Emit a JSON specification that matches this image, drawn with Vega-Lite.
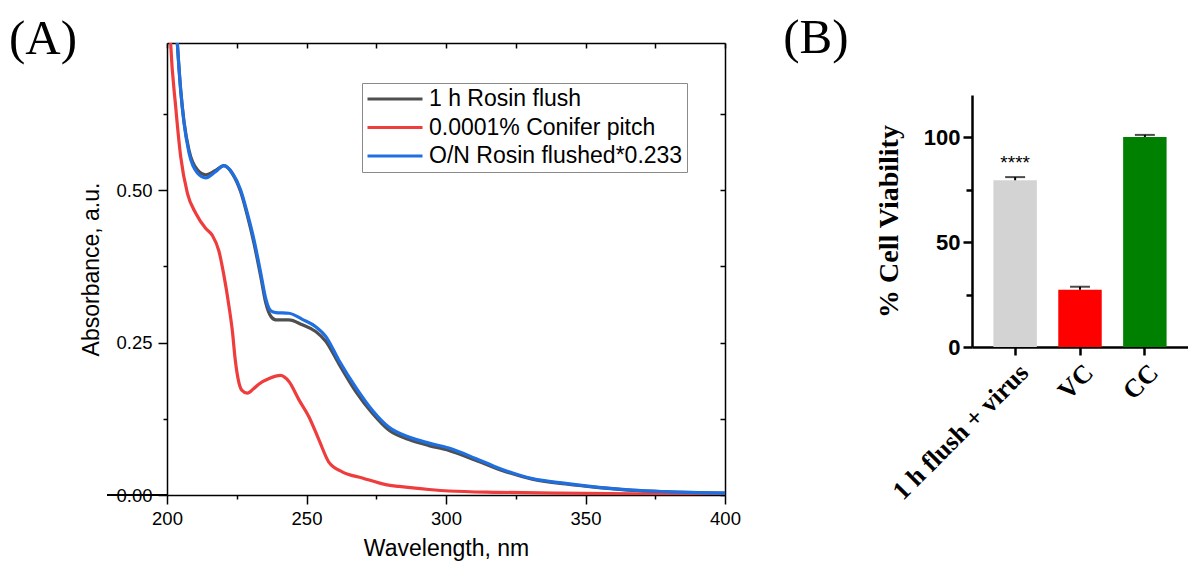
{
  "$schema": "https://vega.github.io/schema/vega-lite/v6.json",
  "background": "white",
  "padding": {"left": 8, "top": 14, "right": 0, "bottom": 0},
  "spacing": 42,
  "resolve": {"scale": {"color": "independent"}},
  "config": {
    "view": {"stroke": null},
    "font": "Liberation Sans",
    "axis": {"grid": false, "domainColor": "black", "tickColor": "black", "labelColor": "black", "titleColor": "black"}
  },
  "hconcat": [
    {
      "width": 558,
      "height": 452,
      "title": {"text": "(A)", "orient": "left", "angle": 0, "anchor": "end", "align": "left", "baseline": "middle", "font": "Liberation Serif", "fontSize": 49, "fontWeight": "normal", "color": "black", "offset": 4, "dy": -3},
      "data": {
        "values": [
          {"series": "1 h Rosin flush", "wl": 202, "abs": 0.88},
          {"series": "1 h Rosin flush", "wl": 203.7, "abs": 0.741},
          {"series": "1 h Rosin flush", "wl": 204.9, "abs": 0.664},
          {"series": "1 h Rosin flush", "wl": 206.1, "abs": 0.612},
          {"series": "1 h Rosin flush", "wl": 207.9, "abs": 0.565},
          {"series": "1 h Rosin flush", "wl": 210.9, "abs": 0.533},
          {"series": "1 h Rosin flush", "wl": 213.9, "abs": 0.525},
          {"series": "1 h Rosin flush", "wl": 217.4, "abs": 0.532},
          {"series": "1 h Rosin flush", "wl": 220.4, "abs": 0.54},
          {"series": "1 h Rosin flush", "wl": 223.4, "abs": 0.527},
          {"series": "1 h Rosin flush", "wl": 226.4, "abs": 0.497},
          {"series": "1 h Rosin flush", "wl": 228.8, "abs": 0.458},
          {"series": "1 h Rosin flush", "wl": 231.2, "abs": 0.412},
          {"series": "1 h Rosin flush", "wl": 233.6, "abs": 0.358},
          {"series": "1 h Rosin flush", "wl": 235.4, "abs": 0.315},
          {"series": "1 h Rosin flush", "wl": 237.2, "abs": 0.293},
          {"series": "1 h Rosin flush", "wl": 239, "abs": 0.287},
          {"series": "1 h Rosin flush", "wl": 243.7, "abs": 0.287},
          {"series": "1 h Rosin flush", "wl": 248.5, "abs": 0.279},
          {"series": "1 h Rosin flush", "wl": 253.3, "abs": 0.268},
          {"series": "1 h Rosin flush", "wl": 256.9, "abs": 0.252},
          {"series": "1 h Rosin flush", "wl": 261.6, "abs": 0.215},
          {"series": "1 h Rosin flush", "wl": 267.6, "abs": 0.17},
          {"series": "1 h Rosin flush", "wl": 273.6, "abs": 0.134},
          {"series": "1 h Rosin flush", "wl": 279.6, "abs": 0.106},
          {"series": "1 h Rosin flush", "wl": 286.7, "abs": 0.091},
          {"series": "1 h Rosin flush", "wl": 293.9, "abs": 0.081},
          {"series": "1 h Rosin flush", "wl": 301, "abs": 0.073},
          {"series": "1 h Rosin flush", "wl": 310.6, "abs": 0.057},
          {"series": "1 h Rosin flush", "wl": 319, "abs": 0.042},
          {"series": "1 h Rosin flush", "wl": 330.9, "abs": 0.026},
          {"series": "1 h Rosin flush", "wl": 342.9, "abs": 0.018},
          {"series": "1 h Rosin flush", "wl": 354.8, "abs": 0.012},
          {"series": "1 h Rosin flush", "wl": 366.8, "abs": 0.0075},
          {"series": "1 h Rosin flush", "wl": 378.7, "abs": 0.005},
          {"series": "1 h Rosin flush", "wl": 400, "abs": 0.003},
          {"series": "0.0001% Conifer pitch", "wl": 200.3, "abs": 0.86},
          {"series": "0.0001% Conifer pitch", "wl": 201.3, "abs": 0.741},
          {"series": "0.0001% Conifer pitch", "wl": 203.1, "abs": 0.637},
          {"series": "0.0001% Conifer pitch", "wl": 204.9, "abs": 0.555},
          {"series": "0.0001% Conifer pitch", "wl": 207.3, "abs": 0.495},
          {"series": "0.0001% Conifer pitch", "wl": 210.3, "abs": 0.462},
          {"series": "0.0001% Conifer pitch", "wl": 213.9, "abs": 0.437},
          {"series": "0.0001% Conifer pitch", "wl": 216.2, "abs": 0.426},
          {"series": "0.0001% Conifer pitch", "wl": 218.6, "abs": 0.4},
          {"series": "0.0001% Conifer pitch", "wl": 220.4, "abs": 0.36},
          {"series": "0.0001% Conifer pitch", "wl": 222.2, "abs": 0.31},
          {"series": "0.0001% Conifer pitch", "wl": 223.4, "abs": 0.27},
          {"series": "0.0001% Conifer pitch", "wl": 224.5, "abs": 0.22},
          {"series": "0.0001% Conifer pitch", "wl": 225.5, "abs": 0.19},
          {"series": "0.0001% Conifer pitch", "wl": 226.8, "abs": 0.172},
          {"series": "0.0001% Conifer pitch", "wl": 228.8, "abs": 0.167},
          {"series": "0.0001% Conifer pitch", "wl": 231, "abs": 0.174},
          {"series": "0.0001% Conifer pitch", "wl": 233, "abs": 0.182},
          {"series": "0.0001% Conifer pitch", "wl": 236.6, "abs": 0.191},
          {"series": "0.0001% Conifer pitch", "wl": 240.7, "abs": 0.196},
          {"series": "0.0001% Conifer pitch", "wl": 243.7, "abs": 0.186},
          {"series": "0.0001% Conifer pitch", "wl": 247.3, "abs": 0.156},
          {"series": "0.0001% Conifer pitch", "wl": 250.9, "abs": 0.128},
          {"series": "0.0001% Conifer pitch", "wl": 254.5, "abs": 0.09},
          {"series": "0.0001% Conifer pitch", "wl": 258, "abs": 0.054},
          {"series": "0.0001% Conifer pitch", "wl": 262.8, "abs": 0.038},
          {"series": "0.0001% Conifer pitch", "wl": 270, "abs": 0.028},
          {"series": "0.0001% Conifer pitch", "wl": 278.4, "abs": 0.017},
          {"series": "0.0001% Conifer pitch", "wl": 283.2, "abs": 0.014},
          {"series": "0.0001% Conifer pitch", "wl": 293.9, "abs": 0.009},
          {"series": "0.0001% Conifer pitch", "wl": 301, "abs": 0.0066},
          {"series": "0.0001% Conifer pitch", "wl": 319, "abs": 0.0044},
          {"series": "0.0001% Conifer pitch", "wl": 340, "abs": 0.003},
          {"series": "0.0001% Conifer pitch", "wl": 370, "abs": 0.002},
          {"series": "0.0001% Conifer pitch", "wl": 400, "abs": 0.0015},
          {"series": "O/N Rosin flushed*0.233", "wl": 202, "abs": 0.88},
          {"series": "O/N Rosin flushed*0.233", "wl": 203.7, "abs": 0.741},
          {"series": "O/N Rosin flushed*0.233", "wl": 204.9, "abs": 0.664},
          {"series": "O/N Rosin flushed*0.233", "wl": 206.1, "abs": 0.61},
          {"series": "O/N Rosin flushed*0.233", "wl": 207.9, "abs": 0.561},
          {"series": "O/N Rosin flushed*0.233", "wl": 210.9, "abs": 0.528},
          {"series": "O/N Rosin flushed*0.233", "wl": 213.9, "abs": 0.52},
          {"series": "O/N Rosin flushed*0.233", "wl": 217.4, "abs": 0.53},
          {"series": "O/N Rosin flushed*0.233", "wl": 220.4, "abs": 0.54},
          {"series": "O/N Rosin flushed*0.233", "wl": 223.4, "abs": 0.528},
          {"series": "O/N Rosin flushed*0.233", "wl": 226.4, "abs": 0.5},
          {"series": "O/N Rosin flushed*0.233", "wl": 228.8, "abs": 0.462},
          {"series": "O/N Rosin flushed*0.233", "wl": 231.2, "abs": 0.418},
          {"series": "O/N Rosin flushed*0.233", "wl": 233.6, "abs": 0.364},
          {"series": "O/N Rosin flushed*0.233", "wl": 235.4, "abs": 0.322},
          {"series": "O/N Rosin flushed*0.233", "wl": 237.2, "abs": 0.302},
          {"series": "O/N Rosin flushed*0.233", "wl": 239, "abs": 0.299},
          {"series": "O/N Rosin flushed*0.233", "wl": 243.7, "abs": 0.298},
          {"series": "O/N Rosin flushed*0.233", "wl": 248.5, "abs": 0.288},
          {"series": "O/N Rosin flushed*0.233", "wl": 253.3, "abs": 0.276},
          {"series": "O/N Rosin flushed*0.233", "wl": 256.9, "abs": 0.26},
          {"series": "O/N Rosin flushed*0.233", "wl": 261.6, "abs": 0.221},
          {"series": "O/N Rosin flushed*0.233", "wl": 267.6, "abs": 0.177},
          {"series": "O/N Rosin flushed*0.233", "wl": 273.6, "abs": 0.139},
          {"series": "O/N Rosin flushed*0.233", "wl": 279.6, "abs": 0.111},
          {"series": "O/N Rosin flushed*0.233", "wl": 286.7, "abs": 0.095},
          {"series": "O/N Rosin flushed*0.233", "wl": 293.9, "abs": 0.085},
          {"series": "O/N Rosin flushed*0.233", "wl": 301, "abs": 0.077},
          {"series": "O/N Rosin flushed*0.233", "wl": 310.6, "abs": 0.06},
          {"series": "O/N Rosin flushed*0.233", "wl": 319, "abs": 0.044},
          {"series": "O/N Rosin flushed*0.233", "wl": 330.9, "abs": 0.027},
          {"series": "O/N Rosin flushed*0.233", "wl": 342.9, "abs": 0.019},
          {"series": "O/N Rosin flushed*0.233", "wl": 354.8, "abs": 0.0126},
          {"series": "O/N Rosin flushed*0.233", "wl": 366.8, "abs": 0.008},
          {"series": "O/N Rosin flushed*0.233", "wl": 378.7, "abs": 0.0055},
          {"series": "O/N Rosin flushed*0.233", "wl": 400, "abs": 0.003}
        ]
      },
      "encoding": {
        "x": {"field": "wl", "type": "quantitative", "scale": {"domain": [200, 400], "nice": false, "zero": false}, "axis": null},
        "y": {"field": "abs", "type": "quantitative", "scale": {"domain": [0, 0.741], "nice": false}, "axis": null},
        "color": {
          "field": "series", "type": "nominal",
          "scale": {"domain": ["1 h Rosin flush", "0.0001% Conifer pitch", "O/N Rosin flushed*0.233"], "range": ["#4f4f4f", "#ef3c3c", "#1f6fe0"]},
          "legend": {
            "orient": "none", "legendX": 195, "legendY": 40, "title": null,
            "symbolType": "stroke", "symbolSize": 3025, "symbolStrokeWidth": 3,
            "labelFont": "Liberation Sans", "labelFontSize": 23, "labelColor": "black", "labelLimit": 500, "labelOffset": 5,
            "strokeColor": "#8a8a8a", "fillColor": "white", "padding": 4, "clipHeight": 24, "rowPadding": 4.5
          }
        }
      },
      "layer": [
        {
          "transform": [{"filter": "datum.series === '1 h Rosin flush'"}],
          "mark": {"type": "line", "strokeWidth": 3.2, "clip": true, "interpolate": "monotone"},
          "encoding": {
            "x": {"field": "wl", "type": "quantitative", "axis": {
              "orient": "bottom", "values": [200, 225, 250, 275, 300, 325, 350, 375, 400],
              "labelExpr": "datum.value % 50 === 0 ? datum.label : ''",
              "tickSize": {"condition": {"test": "datum.value % 50 !== 0", "value": 4}, "value": 9},
              "domainWidth": 1.5, "tickWidth": 1.5, "labelFontSize": 18.5, "labelPadding": 5, "labelFlush": false,
              "title": "Wavelength, nm", "titleFontSize": 23, "titleFontWeight": "normal", "titlePadding": 10
            }},
            "y": {"field": "abs", "type": "quantitative", "axis": {
              "orient": "left", "values": [0, 0.125, 0.25, 0.375, 0.5, 0.625], "format": ".2f",
              "labelExpr": "datum.value % 0.25 === 0 ? datum.label : ''",
              "tickSize": {"condition": {"test": "datum.value % 0.25 !== 0", "value": 4}, "value": 9},
              "domainWidth": 1.5, "tickWidth": 1.5, "labelFontSize": 18.5, "labelPadding": 6, "labelFlush": false,
              "title": "Absorbance, a.u.", "titleFontSize": 23, "titleFontWeight": "normal", "titlePadding": 12
            }}
          }
        },
        {
          "transform": [{"filter": "datum.series === '0.0001% Conifer pitch'"}],
          "mark": {"type": "line", "strokeWidth": 3.2, "clip": true, "interpolate": "monotone"}
        },
        {
          "transform": [{"filter": "datum.series === 'O/N Rosin flushed*0.233'"}],
          "mark": {"type": "line", "strokeWidth": 3.2, "clip": true, "interpolate": "monotone"}
        },
        {
          "transform": [{"filter": "datum.abs < 0.7"}],
          "mark": {"type": "point", "opacity": 0},
          "encoding": {
            "color": {"value": "white"},
            "x": {"field": "wl", "type": "quantitative", "axis": {
              "orient": "top", "values": [200, 225, 250, 275, 300, 325, 350, 375, 400], "labels": false,
              "tickSize": -5, "domainWidth": 1.5, "tickWidth": 1.5, "title": null
            }},
            "y": {"field": "abs", "type": "quantitative", "axis": {
              "orient": "right", "values": [0, 0.125, 0.25, 0.375, 0.5, 0.625], "labels": false,
              "tickSize": -5, "domainWidth": 1.5, "tickWidth": 1.5, "title": null
            }}
          }
        },
        {
          "mark": {"type": "rule", "clip": false, "color": "black", "strokeWidth": 1.5},
          "encoding": {
            "color": {"value": "black"},
            "x": {"datum": 178.5, "type": "quantitative", "axis": null},
            "x2": {"datum": 200},
            "y": {"datum": 0, "type": "quantitative", "axis": null}
          }
        }
      ],
      "resolve": {"axis": {"x": "independent", "y": "independent"}}
    },
    {
      "width": 216,
      "height": 304,
      "title": {"text": "(B)", "anchor": "start", "frame": "bounds", "font": "Liberation Serif", "fontSize": 49, "fontWeight": "normal", "color": "black", "offset": -20, "dx": -92},
      "data": {
        "values": [
          {"group": "1 h flush + virus", "v": 79.4, "hi": 80.9, "sig": "****"},
          {"group": "VC", "v": 27.3, "hi": 28.7, "sig": ""},
          {"group": "CC", "v": 100, "hi": 101, "sig": ""}
        ]
      },
      "encoding": {
        "x": {"field": "group", "type": "nominal", "sort": null, "scale": {"paddingInner": 0.33, "paddingOuter": 0.33},
          "axis": {
            "title": null, "labelAngle": -45, "labelFont": "Liberation Serif", "labelFontWeight": "bold", "labelFontSize": 26,
            "domainWidth": 2.5, "tickWidth": 2.5, "tickSize": 8, "labelPadding": 4
          }}
      },
      "layer": [
        {
          "mark": {"type": "bar"},
          "encoding": {
            "y": {"field": "v", "type": "quantitative", "scale": {"domain": [0, 120], "nice": false, "range": [304, 52]},
              "axis": {
                "values": [0, 25, 50, 75, 100],
                "labelExpr": "datum.value % 50 === 0 ? datum.label : ''",
                "tickSize": {"condition": {"test": "datum.value % 50 !== 0", "value": 6}, "value": 9},
                "domainWidth": 2.5, "tickWidth": 2.5,
                "labelFont": "Liberation Sans", "labelFontWeight": "bold", "labelFontSize": 22, "labelPadding": 3,
                "title": "% Cell Viability", "titleFont": "Liberation Serif", "titleFontSize": 28, "titleFontWeight": "bold", "titlePadding": 20
              }},
            "color": {"field": "group", "type": "nominal", "sort": null,
              "scale": {"domain": ["1 h flush + virus", "VC", "CC"], "range": ["#d3d3d3", "#ff0000", "#008000"]},
              "legend": null}
          }
        },
        {
          "mark": {"type": "rule", "strokeWidth": 2, "color": "black"},
          "encoding": {
            "y": {"field": "v", "type": "quantitative"},
            "y2": {"field": "hi"}
          }
        },
        {
          "mark": {"type": "tick", "size": 20, "thickness": 2, "color": "black"},
          "encoding": {
            "y": {"field": "hi", "type": "quantitative"}
          }
        },
        {
          "mark": {"type": "text", "baseline": "bottom", "dy": -4, "fontSize": 19, "font": "Liberation Sans", "color": "black"},
          "encoding": {
            "y": {"field": "hi", "type": "quantitative"},
            "text": {"field": "sig"}
          }
        }
      ]
    }
  ]
}
